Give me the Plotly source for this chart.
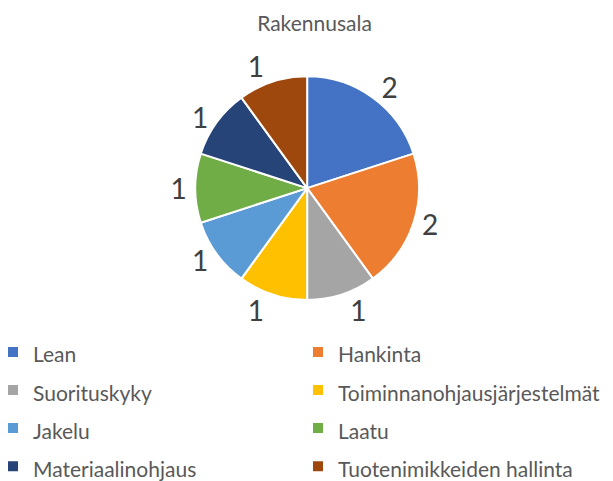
import plotly.graph_objects as go

labels = ["Lean", "Hankinta", "Suorituskyky", "Toiminnanohjausjärjestelmät",
          "Jakelu", "Laatu", "Materiaalinohjaus", "Tuotenimikkeiden hallinta"]
values = [2, 2, 1, 1, 1, 1, 1, 1]
colors = ["#4472C4", "#ED7D31", "#A5A5A5", "#FFC000",
          "#5B9BD5", "#70AD47", "#264478", "#9E480E"]

# legend font is big only to get the row spacing, the text itself is smaller
legend_labels = [f"<span style='font-size:21px'>{l}</span>" for l in labels]

fig = go.Figure()

fig.add_trace(go.Pie(
    labels=legend_labels,
    values=values,
    sort=False,
    direction="clockwise",
    rotation=0,
    textinfo="value",
    textposition="outside",
    outsidetextfont=dict(size=28, color="#404040"),
    marker=dict(colors=colors, line=dict(color="white", width=2)),
    domain=dict(x=[0.305, 0.671], y=[0.393, 0.858]),
    hoverinfo="value",
))

fig.update_layout(
    width=613, height=481,
    margin=dict(l=0, r=0, t=0, b=0, autoexpand=False),
    paper_bgcolor="white",
    font=dict(family="Lato", color="#595959"),
    title=dict(text="Rakennusala", x=0.5, xanchor="center", y=0.968, yanchor="middle",
               font=dict(size=21, color="#595959")),
    legend=dict(
        orientation="h",
        x=0.0, xanchor="left",
        y=0.335, yanchor="top",
        indentation=-15,
        entrywidth=275, entrywidthmode="pixels",
        font=dict(size=27, color="#595959"),
    ),
)

fig.write_html("out.html")
